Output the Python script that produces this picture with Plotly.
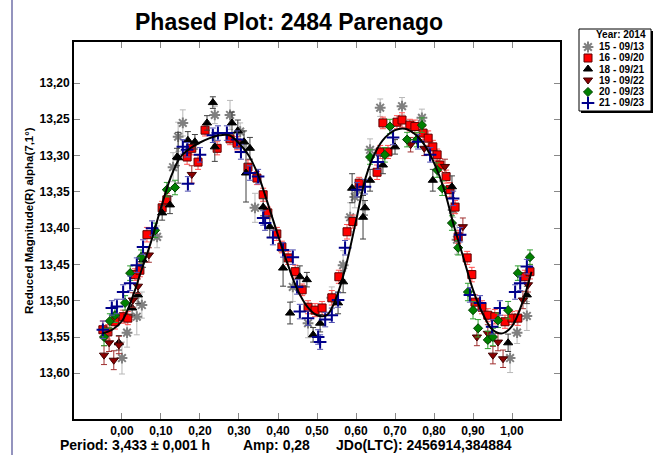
import plotly.graph_objects as go

W, H = 656, 455

# ---------------- data ----------------
series_names = ["15 - 09/13", "16 - 09/20", "18 - 09/21", "19 - 09/22", "20 - 09/23", "21 - 09/23"]

gray_phase = [0.000, 0.013, 0.038, 0.051, 0.090, 0.131, 0.144, 0.156, 0.238, 0.277, 0.303, 0.341,
              0.438, 0.477, 0.538, 0.567, 0.585, 0.597, 0.603, 0.636, 0.662, 0.718, 0.769, 0.849,
              0.859, 0.995, 1.013, 1.038]
gray_mag = [13.579, 13.544, 13.522, 13.506, 13.412, 13.316, 13.274, 13.255, 13.244, 13.244, 13.267, 13.372,
            13.481, 13.531, 13.496, 13.451, 13.385, 13.357, 13.347, 13.292, 13.234, 13.232, 13.248, 13.375,
            13.416, 13.579, 13.544, 13.521]
gray_err = [0.022, 0.020, 0.025, 0.018, 0.015, 0.020, 0.020, 0.018, 0.012, 0.020, 0.012, 0.020,
            0.020, 0.020, 0.015, 0.020, 0.020, 0.015, 0.010, 0.015, 0.012, 0.012, 0.012, 0.010,
            0.020, 0.020, 0.015, 0.020]

red_phase = [-0.049, -0.036, -0.018, 0.003, 0.015, 0.033, 0.046, 0.064, 0.103, 0.115, 0.167, 0.179,
             0.195, 0.213, 0.244, 0.277, 0.295, 0.323, 0.346, 0.362, 0.374, 0.397, 0.410, 0.426,
             0.444, 0.462, 0.477, 0.495, 0.513, 0.538, 0.556, 0.577, 0.592, 0.608, 0.654, 0.662,
             0.669, 0.682, 0.705, 0.718, 0.738, 0.751, 0.772, 0.785, 0.797, 0.808, 0.815, 0.831,
             0.841, 0.854, 0.862, 0.885, 0.897, 0.905, 0.923, 0.938, 0.956, 0.982, 1.000, 1.015,
             1.033, 1.046]
red_mag = [13.540, 13.543, 13.529, 13.522, 13.524, 13.464, 13.458, 13.409, 13.372, 13.361, 13.302, 13.290,
           13.309, 13.265, 13.290, 13.277, 13.283, 13.316, 13.331, 13.354, 13.379, 13.408, 13.426, 13.441,
           13.460, 13.485, 13.509, 13.513, 13.510, 13.496, 13.467, 13.405, 13.391, 13.338, 13.323, 13.295,
           13.255, 13.295, 13.254, 13.251, 13.258, 13.260, 13.269, 13.276, 13.288, 13.299, 13.313, 13.329,
           13.347, 13.371, 13.412, 13.441, 13.464, 13.502, 13.509, 13.520, 13.522, 13.529, 13.524, 13.524,
           13.467, 13.460]
red_err = [0.012, 0.010, 0.010, 0.009, 0.009, 0.008, 0.009, 0.010, 0.009, 0.009, 0.010, 0.009,
           0.010, 0.008, 0.009, 0.008, 0.009, 0.010, 0.009, 0.009, 0.008, 0.009, 0.008, 0.009,
           0.009, 0.008, 0.009, 0.009, 0.009, 0.010, 0.009, 0.010, 0.009, 0.008, 0.010, 0.009,
           0.008, 0.009, 0.009, 0.010, 0.008, 0.009, 0.009, 0.010, 0.009, 0.008, 0.009, 0.009,
           0.010, 0.009, 0.009, 0.009, 0.010, 0.010, 0.009, 0.009, 0.010, 0.009, 0.009, 0.010,
           0.009, 0.010]

black_phase = [-0.008, 0.026, 0.041, 0.054, 0.103, 0.123, 0.141, 0.144, 0.169, 0.187, 0.218, 0.233,
               0.238, 0.282, 0.297, 0.313, 0.318, 0.328, 0.362, 0.379, 0.413, 0.431, 0.456, 0.474,
               0.490, 0.508, 0.554, 0.567, 0.590, 0.618, 0.623, 0.636, 0.669, 0.700, 0.797, 0.846,
               0.990, 1.038]
black_mag = [13.558, 13.510, 13.492, 13.444, 13.379, 13.368, 13.302, 13.303, 13.279, 13.281, 13.255, 13.227,
             13.288, 13.255, 13.266, 13.281, 13.324, 13.290, 13.371, 13.398, 13.455, 13.517, 13.467, 13.471,
             13.547, 13.531, 13.503, 13.474, 13.345, 13.385, 13.372, 13.334, 13.313, 13.288, 13.334, 13.343,
             13.558, 13.492]
black_err = [0.010, 0.010, 0.012, 0.010, 0.010, 0.012, 0.012, 0.035, 0.012, 0.010, 0.010, 0.008,
             0.020, 0.015, 0.015, 0.015, 0.040, 0.015, 0.012, 0.015, 0.025, 0.015, 0.015, 0.010,
             0.010, 0.012, 0.015, 0.015, 0.020, 0.030, 0.010, 0.015, 0.012, 0.010, 0.015, 0.015,
             0.012, 0.012]

dred_phase = [-0.046, -0.033, -0.021, -0.008, 0.028, 0.041, 0.069, 0.179, 0.740, 0.775, 0.828, 0.874,
              0.910, 0.938, 0.951, 0.964, 0.977, 1.028, 1.041]
dred_mag = [13.575, 13.558, 13.582, 13.561, 13.499, 13.480, 13.437, 13.326, 13.285, 13.290, 13.315, 13.398,
            13.550, 13.545, 13.575, 13.557, 13.580, 13.499, 13.478]
dred_err = [0.013, 0.012, 0.013, 0.012, 0.010, 0.010, 0.010, 0.012, 0.010, 0.010, 0.010, 0.012,
            0.012, 0.012, 0.012, 0.012, 0.012, 0.012, 0.010]

green_phase = [-0.046, -0.031, -0.018, 0.008, 0.021, 0.049, 0.085, 0.115, 0.136, 0.636, 0.674, 0.687,
               0.731, 0.756, 0.769, 0.808, 0.821, 0.846, 0.862, 0.887, 0.900, 0.913, 0.938, 0.951,
               0.964, 0.990, 1.015, 1.046]
green_mag = [13.550, 13.528, 13.520, 13.503, 13.462, 13.440, 13.403, 13.347, 13.344, 13.302, 13.299, 13.260,
             13.278, 13.278, 13.258, 13.320, 13.345, 13.393, 13.427, 13.488, 13.513, 13.538, 13.554, 13.550,
             13.527, 13.513, 13.462, 13.440]
green_err = [0.012, 0.010, 0.010, 0.010, 0.010, 0.010, 0.010, 0.010, 0.010, 0.010, 0.010, 0.010,
             0.010, 0.010, 0.010, 0.010, 0.010, 0.010, 0.010, 0.012, 0.012, 0.012, 0.012, 0.012,
             0.010, 0.012, 0.010, 0.010]

blue_phase = [-0.049, -0.026, -0.013, 0.003, 0.021, 0.038, 0.054, 0.077, 0.156, 0.167, 0.169, 0.200,
              0.233, 0.246, 0.269, 0.295, 0.305, 0.328, 0.349, 0.362, 0.367, 0.387, 0.413, 0.438,
              0.449, 0.456, 0.477, 0.503, 0.508, 0.521, 0.538, 0.554, 0.572, 0.603, 0.623, 0.656,
              0.695, 0.759, 0.790, 0.849, 0.867, 0.892, 0.918, 0.949, 0.969, 1.008, 1.021, 1.038]
blue_mag = [13.540, 13.510, 13.508, 13.488, 13.476, 13.451, 13.426, 13.400, 13.288, 13.292, 13.339, 13.299,
            13.272, 13.269, 13.269, 13.278, 13.295, 13.324, 13.329, 13.386, 13.393, 13.413, 13.430, 13.440,
            13.481, 13.515, 13.524, 13.550, 13.557, 13.526, 13.520, 13.499, 13.427, 13.347, 13.343, 13.309,
            13.275, 13.281, 13.299, 13.359, 13.409, 13.492, 13.503, 13.536, 13.510, 13.488, 13.476, 13.453]
blue_err = [0.012, 0.010, 0.010, 0.010, 0.010, 0.010, 0.010, 0.010, 0.010, 0.010, 0.010, 0.010,
            0.010, 0.010, 0.010, 0.012, 0.010, 0.010, 0.010, 0.010, 0.010, 0.010, 0.010, 0.010,
            0.010, 0.010, 0.010, 0.010, 0.010, 0.010, 0.010, 0.010, 0.010, 0.010, 0.010, 0.010,
            0.010, 0.010, 0.010, 0.010, 0.010, 0.010, 0.010, 0.010, 0.010, 0.010, 0.010, 0.010]

curve_phase = [-0.050, -0.025, 0.000, 0.025, 0.050, 0.075, 0.100, 0.125, 0.150, 0.175, 0.200, 0.225,
               0.250, 0.275, 0.300, 0.325, 0.350, 0.375, 0.400, 0.425, 0.450, 0.475, 0.500, 0.525,
               0.550, 0.575, 0.600, 0.625, 0.650, 0.675, 0.700, 0.725, 0.750, 0.775, 0.800, 0.825,
               0.850, 0.875, 0.900, 0.925, 0.950, 0.975, 1.000, 1.025, 1.050]
curve_mag = [13.545, 13.540, 13.528, 13.498, 13.458, 13.418, 13.372, 13.330, 13.302, 13.290, 13.282, 13.276,
             13.272, 13.272, 13.283, 13.300, 13.328, 13.368, 13.410, 13.450, 13.485, 13.508, 13.520, 13.520,
             13.495, 13.450, 13.390, 13.330, 13.295, 13.275, 13.265, 13.263, 13.270, 13.285, 13.310, 13.345,
             13.395, 13.440, 13.485, 13.518, 13.540, 13.545, 13.535, 13.505, 13.460]

x_ticks = [0.0, 0.1, 0.2, 0.3, 0.4, 0.5, 0.6, 0.7, 0.8, 0.9, 1.0]
y_ticks = [13.20, 13.25, 13.30, 13.35, 13.40, 13.45, 13.50, 13.55, 13.60]

title_text = "Phased Plot: 2484 Parenago"
ytitle_text = "Reduced Magnitude(R) alpha(7,1°)"
footer_texts = ["Period: 3,433 ± 0,001 h", "Amp: 0,28", "JDo(LTC): 2456914,384884"]
legend_title = "Year: 2014"

# ---------------- styles ----------------
styles = [
    dict(symbol="asterisk-open", size=9, color="#808080", line=dict(color="#808080", width=2), ecol="#b8b8b8"),
    dict(symbol="square", size=8, color="#ff0000", line=dict(color="#600000", width=1), ecol="#ff5050"),
    dict(symbol="triangle-up", size=8, color="#000000", line=dict(color="#000000", width=1), ecol="#404040"),
    dict(symbol="triangle-down", size=8, color="#8b0000", line=dict(color="#400000", width=1), ecol="#a03030"),
    dict(symbol="diamond", size=7, color="#008000", line=dict(color="#004000", width=1), ecol="#30a030"),
    dict(symbol="cross-thin-open", size=9, color="#00008b", line=dict(color="#00008b", width=2), ecol="#5050b0"),
]
data_sets = [
    (gray_phase, gray_mag, gray_err),
    (red_phase, red_mag, red_err),
    (black_phase, black_mag, black_err),
    (dred_phase, dred_mag, dred_err),
    (green_phase, green_mag, green_err),
    (blue_phase, blue_mag, blue_err),
]

# plot frame in pixels
L, R, T, B = 74, 560, 42, 419

def px(x):
    return x / W

def py(y):
    return 1 - y / H

fig = go.Figure()

for name, (xs, ys, es), st in zip(series_names, data_sets, styles):
    fig.add_trace(go.Scatter(
        x=xs, y=ys, mode="markers", name=name, showlegend=False,
        marker=dict(symbol=st["symbol"], size=st["size"], color=st["color"], line=st["line"]),
        error_y=dict(type="data", array=es, visible=True, color=st["ecol"], thickness=1, width=3),
        xaxis="x", yaxis="y",
    ))

fig.add_trace(go.Scatter(x=curve_phase, y=curve_mag, mode="lines", showlegend=False,
                         line=dict(color="black", width=2, shape="spline"), xaxis="x", yaxis="y"))

# legend symbols on a pixel overlay axis
leg_x = 588
leg_y = [47, 58, 69, 80, 92, 103]
for st, ly in zip(styles, leg_y):
    fig.add_trace(go.Scatter(x=[leg_x], y=[ly], mode="markers", showlegend=False,
                             marker=dict(symbol=st["symbol"], size=st["size"], color=st["color"], line=st["line"]),
                             xaxis="x2", yaxis="y2", hoverinfo="skip", cliponaxis=False))

bold = dict(family="Liberation Sans, Arial, sans-serif", color="black", weight="bold")

annotations = [
    dict(x=px(289), y=py(22), xref="paper", yref="paper", text=title_text, showarrow=False,
         font=dict(bold, size=23), xanchor="center", yanchor="middle"),
    dict(x=px(29), y=py(221), xref="paper", yref="paper", text=ytitle_text, showarrow=False,
         font=dict(bold, size=11.5), textangle=-90, xanchor="center", yanchor="middle"),
    dict(x=px(648), y=py(35), xref="paper", yref="paper", text=legend_title, showarrow=False,
         font=dict(bold, size=10), xanchor="right", yanchor="middle"),
]
for txt, fx in zip(footer_texts, [58, 241, 334]):
    annotations.append(dict(x=px(fx), y=py(445), xref="paper", yref="paper", text=txt, showarrow=False,
                            font=dict(bold, size=14), xanchor="left", yanchor="middle"))
for name, ly in zip(series_names, leg_y):
    annotations.append(dict(x=px(597), y=py(ly), xref="paper", yref="paper", text=name, showarrow=False,
                            font=dict(bold, size=10), xanchor="left", yanchor="middle"))

shapes = [
    # legend shadow and box
    dict(type="rect", xref="paper", yref="paper", x0=px(581), x1=px(653), y0=py(31), y1=py(113),
         fillcolor="#000000", line=dict(width=0), layer="below"),
    dict(type="rect", xref="paper", yref="paper", x0=px(579), x1=px(651), y0=py(29), y1=py(111),
         fillcolor="white", line=dict(color="black", width=1), layer="below"),
    # outer window border on the left
    dict(type="line", xref="paper", yref="paper", x0=px(12), x1=px(12), y0=0, y1=1,
         line=dict(color="#7070a8", width=1.5)),
]

fig.update_layout(
    width=W, height=H,
    margin=dict(l=0, r=0, t=0, b=0),
    paper_bgcolor="white", plot_bgcolor="rgba(0,0,0,0)",
    separators=",.",
    font=bold,
    showlegend=False,
    xaxis=dict(domain=[px(L), px(R)], range=[-0.123, 1.123], tickvals=x_ticks, tickformat=".2f",
               ticks="inside", ticklen=6, tickcolor="#888888", tickwidth=1,
               showline=True, linecolor="black", linewidth=2, mirror="ticks",
               showgrid=False, zeroline=False, tickfont=dict(bold, size=12), anchor="y"),
    yaxis=dict(domain=[py(B), py(T)], range=[13.663, 13.1435], tickvals=y_ticks, tickformat=".2f",
               ticks="inside", ticklen=6, tickcolor="#888888", tickwidth=1,
               showline=True, linecolor="black", linewidth=2, mirror="ticks",
               showgrid=False, zeroline=False, tickfont=dict(bold, size=12), anchor="x"),
    xaxis2=dict(domain=[0, 1], range=[0, W], visible=False, anchor="y2", fixedrange=True),
    yaxis2=dict(domain=[0, 1], range=[H, 0], visible=False, anchor="x2", fixedrange=True),
    annotations=annotations,
    shapes=shapes,
)

fig.write_html("out.html", config={"displayModeBar": False},
               post_script="document.body.style.margin='0px';")
